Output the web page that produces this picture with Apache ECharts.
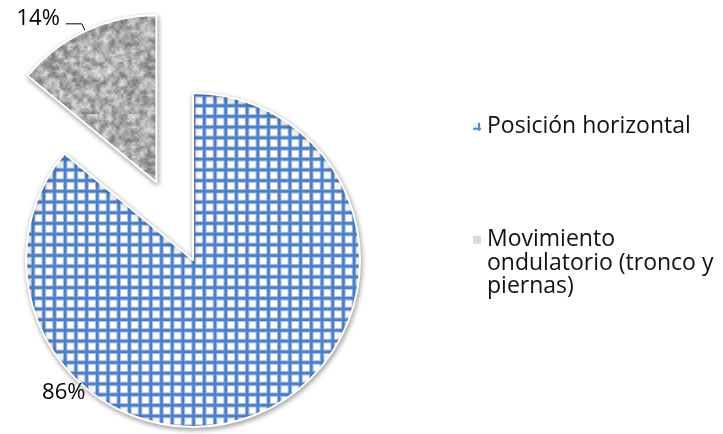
<!DOCTYPE html>
<html>
<head>
<meta charset="utf-8">
<script src="https://cdn.jsdelivr.net/npm/echarts@6/dist/echarts.min.js"></script>
<style>
  html, body { margin: 0; padding: 0; background: #fff; }
  #chart { width: 723px; height: 434px; }
</style>
</head>
<body>
<div id="chart"></div>
<script>
// Slice names and shares (percent)
const categories = ['Posición horizontal', 'Movimiento ondulatorio (tronco y piernas)'];
const values = [86, 14];
const legendLines = {
  'Posición horizontal': 'Posición horizontal',
  'Movimiento ondulatorio (tronco y piernas)': 'Movimiento\nondulatorio (tronco y\npiernas)'
};

const CX = 193, CY = 260, R = 167;
const FONT = '"Open Sans", "Liberation Sans", sans-serif';

// Blue lattice fill
function gridPattern() {
  const size = 107, step = 10.7;
  const c = document.createElement('canvas');
  c.width = size; c.height = size;
  const g = c.getContext('2d');
  g.fillStyle = '#ffffff';
  g.fillRect(0, 0, size, size);
  const lines = (w, color) => {
    g.fillStyle = color;
    for (let i = -1; i <= 10; i++) {
      const x = i * step + 1;
      const y = i * step + 9.4;
      g.fillRect(x - w / 2, 0, w, size);
      g.fillRect(0, y - w / 2, size, w);
    }
  };
  lines(4.6, '#a9c2e8');
  lines(2.6, '#4f7fc6');
  return c;
}

// Small lattice swatch for the legend key
function gridSwatch() {
  const c = document.createElement('canvas');
  c.width = 10; c.height = 10;
  const g = c.getContext('2d');
  g.fillStyle = '#eef3fb';
  g.fillRect(0, 0, 10, 10);
  g.fillStyle = '#5b89cc';
  g.fillRect(6, 0, 2, 10);
  g.fillRect(0, 6, 10, 2);
  return c;
}

// Grey granite fill, built from a seeded generator so it is stable
function granitePattern() {
  let s = 12345;
  const rnd = () => { s = (s * 1103515245 + 12345) & 0x7fffffff; return s / 0x7fffffff; };
  const size = 96;
  const small = document.createElement('canvas');
  small.width = 24; small.height = 24;
  const sg = small.getContext('2d');
  for (let y = 0; y < 24; y++) {
    for (let x = 0; x < 24; x++) {
      const v = Math.round(95 + rnd() * 150);
      sg.fillStyle = `rgb(${v},${v},${v})`;
      sg.fillRect(x, y, 1, 1);
    }
  }
  const c = document.createElement('canvas');
  c.width = size; c.height = size;
  const g = c.getContext('2d');
  g.imageSmoothingEnabled = true;
  g.drawImage(small, 0, 0, size, size);
  for (let y = 0; y < size; y += 2) {
    for (let x = 0; x < size; x += 2) {
      const v = Math.round(120 + rnd() * 120);
      g.fillStyle = `rgba(${v},${v},${v},0.35)`;
      g.fillRect(x, y, 2, 2);
    }
  }
  return c;
}

const blueFill = { image: gridPattern(), repeat: 'repeat' };
const greyFill = { image: granitePattern(), repeat: 'repeat' };
const blueKey = { image: gridSwatch(), repeat: 'repeat' };
const greyKey = {
  type: 'radial', x: 0.5, y: 0.5, r: 0.6,
  colorStops: [{ offset: 0, color: '#9c9c9c' }, { offset: 1, color: '#dadada' }]
};

const baseItem = {
  borderColor: '#ffffff',
  borderWidth: 2,
  shadowBlur: 5,
  shadowColor: 'rgba(0,0,0,0.35)',
  shadowOffsetX: 1,
  shadowOffsetY: 2
};

const legendText = { fontFamily: FONT, fontSize: 23, color: '#111', lineHeight: 23.5 };

const chart = echarts.init(document.getElementById('chart'), null, { renderer: 'canvas' });

chart.setOption({
  animation: false,
  backgroundColor: '#ffffff',
  legend: [
    {
      data: [{ name: categories[0], itemStyle: { color: blueKey } }],
      left: 466,
      top: 110,
      icon: 'rect',
      itemWidth: 10,
      itemHeight: 10,
      selectedMode: false,
      formatter: n => legendLines[n],
      textStyle: legendText
    },
    {
      // tall key box with the swatch at its top, so the swatch sits beside the first line
      data: [{ name: categories[1], itemStyle: { color: greyKey } }],
      left: 466,
      top: 223,
      icon: 'path://M0,0h10v10h-10zM0,57h10',
      itemWidth: 10,
      itemHeight: 57,
      selectedMode: false,
      formatter: n => legendLines[n],
      textStyle: legendText
    }
  ],
  series: [{
    type: 'pie',
    center: [CX, CY],
    radius: R,
    startAngle: 90,
    clockwise: true,
    selectedMode: 'single',
    selectedOffset: 86,
    avoidLabelOverlap: false,
    emphasis: { disabled: true },
    select: { itemStyle: baseItem },
    itemStyle: baseItem,
    label: {
      formatter: '{d}%',
      fontFamily: FONT,
      fontSize: 22,
      color: '#000',
      distanceToLabelLine: 6
    },
    labelLine: {
      length: 8,
      length2: 16,
      lineStyle: { color: '#000', width: 1 }
    },
    labelLayout: function (p) {
      if (p.dataIndex === 0) {
        const a = 224.3 * Math.PI / 180, r = R + 18;
        return { x: CX + r * Math.sin(a), y: CY - r * Math.cos(a), align: 'center', verticalAlign: 'middle' };
      }
      return { dy: -5 };
    },
    data: [
      { name: categories[0], value: values[0], itemStyle: { color: blueFill }, labelLine: { show: false } },
      { name: categories[1], value: values[1], selected: true, itemStyle: { color: greyFill },
        label: { position: 'outside' } }
    ]
  }]
});
</script>
</body>
</html>
